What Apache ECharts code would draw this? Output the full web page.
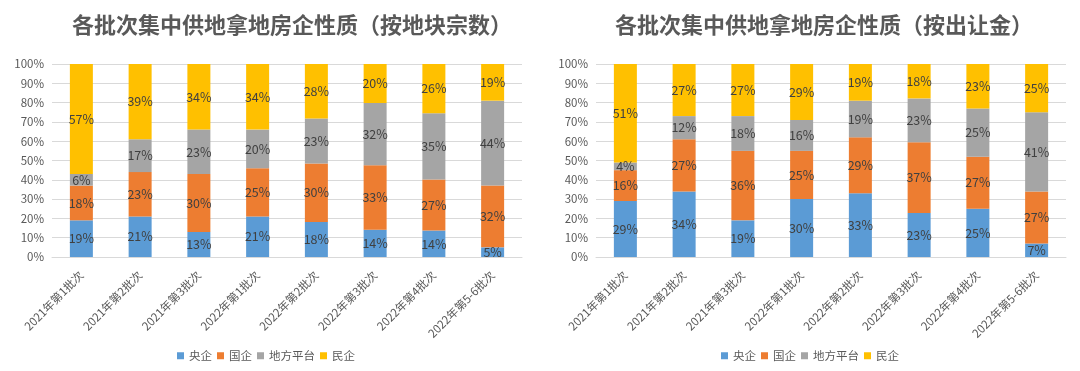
<!DOCTYPE html>
<html><head><meta charset="utf-8">
<script src="https://cdn.jsdelivr.net/npm/echarts@6/dist/echarts.min.js"></script>
<style>html,body{margin:0;padding:0;background:#fff}#c{width:1080px;height:371px}</style>
</head><body><div id="c"></div>
<script>
var categories = ['2021年第1批次','2021年第2批次','2021年第3批次','2022年第1批次','2022年第2批次','2022年第3批次','2022年第4批次','2022年第5-6批次'];
var seriesNames = ['央企','国企','地方平台','民企'];
var yTicks = ['0%','10%','20%','30%','40%','50%','60%','70%','80%','90%','100%'];
// 左：按地块宗数
var countSOE = [19,21,13,21,18,14,14,5];
var countState = [18,23,30,25,30,33,27,32];
var countLocal = [6,17,23,20,23,32,35,44];
var countPrivate = [57,39,34,34,28,20,26,19];
// 右：按出让金
var amountSOE = [29,34,19,30,33,23,25,7];
var amountState = [16,27,36,25,29,37,27,27];
var amountLocal = [4,12,18,16,19,23,25,41];
var amountPrivate = [51,27,27,29,19,18,23,25];

var colors = ['#5B9BD5','#ED7D31','#A5A5A5','#FFC000'];
var font = '"Noto Sans CJK SC", "Noto Sans", sans-serif';

function norm(groups){
  return groups.map(function(g){
    return g.map(function(v,i){
      var s=0; groups.forEach(function(gg){s+=gg[i];});
      return {value: v/s*100, raw: v};
    });
  });
}
var leftData = norm([countSOE,countState,countLocal,countPrivate]);
var rightData = norm([amountSOE,amountState,amountLocal,amountPrivate]);

var series = [];
[leftData,rightData].forEach(function(d,gi){
  d.forEach(function(arr,si){
    series.push({
      name: seriesNames[si], type:'bar', stack:'s'+gi,
      xAxisIndex: gi, yAxisIndex: gi, barWidth: 23,
      itemStyle:{color:colors[si]},
      label:{show:true, position:'inside', color:'#404040', fontSize:12.5, fontFamily:font,
        formatter:function(p){return p.data.raw+'%';}},
      data: arr
    });
  });
});

function xAx(gi){return {type:'category', gridIndex:gi, data:categories,
  axisLine:{lineStyle:{color:'#D9D9D9'}}, axisTick:{show:false},
  axisLabel:{rotate:45, color:'#595959', fontSize:11.5, fontFamily:font, margin:16, interval:0}};}
function yAx(gi){return {type:'value', gridIndex:gi, min:0, max:100, interval:10,
  axisLine:{show:false}, axisTick:{show:false},
  splitLine:{lineStyle:{color:'#D9D9D9'}},
  axisLabel:{color:'#595959', fontSize:11.5, fontFamily:font, margin:8,
    formatter:function(v){return yTicks[Math.round(v/10)];}}};}

var legendBase = {data:seriesNames, top:345, itemWidth:7, itemHeight:7, itemGap:5,
  icon:'rect', textStyle:{color:'#595959', fontSize:11.5, fontFamily:font}, selectedMode:false};

var chart = echarts.init(document.getElementById('c'), null, {renderer:'canvas'});
chart.setOption({
  animation:false,
  color: colors,
  title:[
    {text:'各批次集中供地拿地房企性质（按地块宗数）', left:287, top:9, textAlign:'center',
      textStyle:{fontSize:22, fontWeight:'bold', color:'#595959', fontFamily:font}},
    {text:'各批次集中供地拿地房企性质（按出让金）', left:819, top:9, textAlign:'center',
      textStyle:{fontSize:22, fontWeight:'bold', color:'#595959', fontFamily:font}}
  ],
  legend:[
    Object.assign({left:172}, legendBase),
    Object.assign({left:716}, legendBase)
  ],
  grid:[
    {left:52, width:470, top:64, height:193},
    {left:596, width:470, top:64, height:193}
  ],
  xAxis:[xAx(0), xAx(1)],
  yAxis:[yAx(0), yAx(1)],
  series: series
});
</script>
</body></html>
